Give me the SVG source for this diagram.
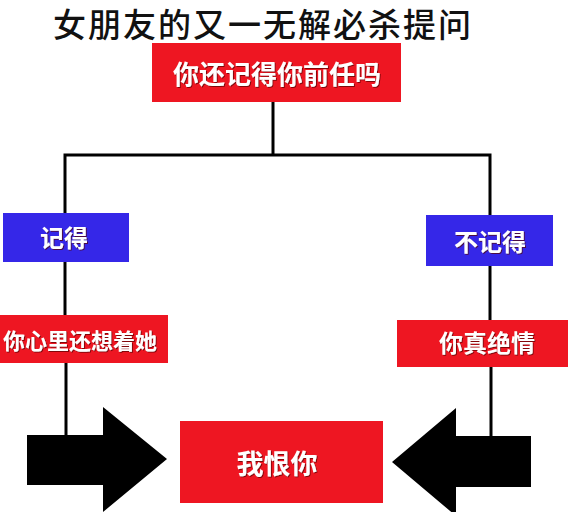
<svg xmlns="http://www.w3.org/2000/svg" width="580" height="512" viewBox="0 0 580 512">
<defs>
<style>
.red{fill:#ee1622;}
.blue{fill:#3527e8;}
.lbl{font-family:"Noto Sans CJK SC","Noto Sans CJK TC",sans-serif;font-weight:700;fill:#ffffff;text-anchor:middle;dominant-baseline:central;filter:url(#sh);}
.title{font-family:"Noto Sans CJK SC","Noto Sans CJK TC",sans-serif;font-weight:500;fill:#111111;font-size:33px;letter-spacing:2px;dominant-baseline:central;}
.ln{stroke:#000;stroke-width:3;fill:none;}
.arr{fill:#000;}
</style>
<filter id="sh" x="-10%" y="-20%" width="120%" height="140%">
<feDropShadow dx="1" dy="1" stdDeviation="0.6" flood-color="#550000" flood-opacity="0.7"/>
</filter>
</defs>
<rect width="580" height="512" fill="#ffffff"/>
<text class="title" x="53" y="23">女朋友的又一无解必杀提问</text>
<g id="connectors">
<polyline class="ln" points="273,102 273,155"/>
<polyline class="ln" points="65,213 65,155 490,155 490,215"/>
<line class="ln" x1="65" y1="262" x2="65" y2="315"/>
<line class="ln" x1="490" y1="266" x2="490" y2="320"/>
<line class="ln" x1="66" y1="363" x2="66" y2="436"/>
<line class="ln" x1="491" y1="367" x2="491" y2="437"/>
</g>
<g id="arrow-left">
<polygon class="arr" points="27,435 103,435 103,407 167,459 103,512 103,485 27,485"/>
</g>
<g id="arrow-right">
<polygon class="arr" points="531,436 456,436 456,408 392,462 456,516 456,487 531,487"/>
</g>
<g id="q">
<rect class="red" x="152" y="43" width="249" height="59"/>
<text class="lbl" x="277" y="72" font-size="26">你还记得你前任吗</text>
</g>
<g id="yes">
<rect class="blue" x="3" y="213" width="126" height="49"/>
<text class="lbl" x="64" y="236" font-size="24">记得</text>
</g>
<g id="no">
<rect class="blue" x="426" y="215" width="127" height="51"/>
<text class="lbl" x="490" y="240" font-size="24">不记得</text>
</g>
<g id="yes2">
<rect class="red" x="-5" y="315" width="173" height="48"/>
<text class="lbl" x="80" y="339" font-size="22">你心里还想着她</text>
</g>
<g id="no2">
<rect class="red" x="397" y="320" width="171" height="47"/>
<text class="lbl" x="487" y="341" font-size="24">你真绝情</text>
</g>
<g id="hate">
<rect class="red" x="180" y="421" width="203" height="82"/>
<text class="lbl" x="277" y="462" font-size="27">我恨你</text>
</g>
</svg>
